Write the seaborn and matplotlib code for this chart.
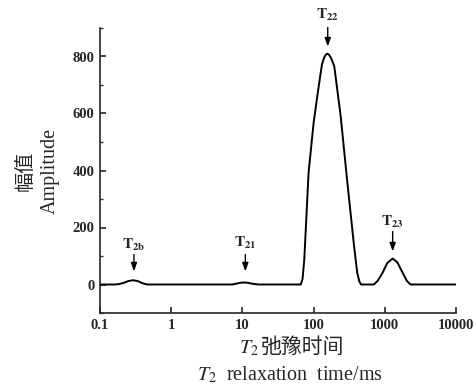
import numpy as np
import pandas as pd
import matplotlib
matplotlib.use("Agg")
import matplotlib.pyplot as plt
import seaborn as sns
from matplotlib.ticker import FixedLocator, MultipleLocator, FixedFormatter

# T2 relaxation time (ms) and amplitude
t2_ms = [0.1, 0.16, 0.18, 0.21, 0.25, 0.29, 0.34, 0.39, 0.44, 0.47,
         7.2, 8.2, 9.3, 10.5, 12.0, 13.5, 15.5, 17.0,
         66, 70, 74, 85, 100, 118, 131, 140, 148, 156, 165, 178, 195, 240, 295, 370, 410, 440, 465,
         705, 800, 930, 1080, 1290, 1500, 1780, 2050, 2300, 10000]
amplitude = [0, 0, 1, 5, 12, 15, 12, 5, 1, 0,
             0, 3, 6, 7, 6, 3, 1, 0,
             0, 20, 88, 392, 567, 696, 772, 795, 806, 810, 806, 792, 766, 591, 368, 135, 41, 10, 0,
             0, 14, 41, 75, 91, 78, 41, 12, 0, 0]

# peak markers: label, position, label height, arrow tail, arrow tip
peak_labels = [r"$\mathbf{T_{2b}}$", r"$\mathbf{T_{21}}$", r"$\mathbf{T_{22}}$", r"$\mathbf{T_{23}}$"]
peak_pos = [0.30, 11.0, 158, 1290]
label_y = [140, 147, 947, 221]
arrow_tail = [105, 105, 902, 186]
arrow_tip = [46, 46, 835, 116]

x_ticks = [0.1, 1, 10, 100, 1000, 10000]
x_ticklabels = ["0.1", "1", "10", "100", "1000", "10000"]

df = pd.DataFrame({"t2": t2_ms, "amp": amplitude})

sns.set_style("ticks")
plt.rcParams["font.family"] = ["Liberation Serif", "Noto Sans CJK SC"]
plt.rcParams["mathtext.fontset"] = "stix"

fig = plt.figure(figsize=(4.76, 3.85), dpi=100)
ax = fig.add_axes([100 / 476, 1 - 313 / 385, 356 / 476, 285 / 385])

sns.lineplot(data=df, x="t2", y="amp", sort=False, color="black", linewidth=1.4, ax=ax)

ax.set_xscale("log")
ax.set_xlim(0.1, 10000)
ax.set_ylim(-100, 900)
ax.xaxis.set_major_locator(FixedLocator(x_ticks))
ax.xaxis.set_major_formatter(FixedFormatter(x_ticklabels))
ax.xaxis.set_minor_locator(FixedLocator([]))
ax.yaxis.set_major_locator(FixedLocator([0, 200, 400, 600, 800]))
ax.yaxis.set_minor_locator(MultipleLocator(100))

sns.despine(ax=ax)
for s in ["left", "bottom"]:
    ax.spines[s].set_linewidth(1.2)
ax.tick_params(which="major", direction="in", length=4, width=1.2, labelsize=10.5, pad=4)
ax.tick_params(which="minor", direction="in", length=2.5, width=1.0)
for lab in ax.get_xticklabels() + ax.get_yticklabels():
    lab.set_fontweight("bold")

for lab, xp, ly, ya, yb in zip(peak_labels, peak_pos, label_y, arrow_tail, arrow_tip):
    ax.annotate("", xy=(xp, yb), xytext=(xp, ya), annotation_clip=False,
                arrowprops=dict(arrowstyle="-|>,head_length=0.5,head_width=0.18",
                                color="black", lw=1.0, shrinkA=0, shrinkB=0))
    ax.text(xp, ly, lab, ha="center", va="center", fontsize=11, clip_on=False)

ax.set_ylabel("幅值\nAmplitude", fontsize=14.5, linespacing=1.4, labelpad=9)
ax.set_xlabel("")

# two-line x label; Chinese kept outside mathtext so the CJK font is used
fig.text(259 / 476, 1 - 348 / 385, "$T_2$", ha="right", va="center", fontsize=14.5)
fig.text(261 / 476, 1 - 348 / 385, "弛豫时间", ha="left", va="center", fontsize=15)
fig.text(290 / 476, 1 - 375 / 385, "$T_2$  relaxation  time/ms", ha="center", va="center",
         fontsize=14.5)

fig.savefig("out.png", dpi=100, facecolor="white")
